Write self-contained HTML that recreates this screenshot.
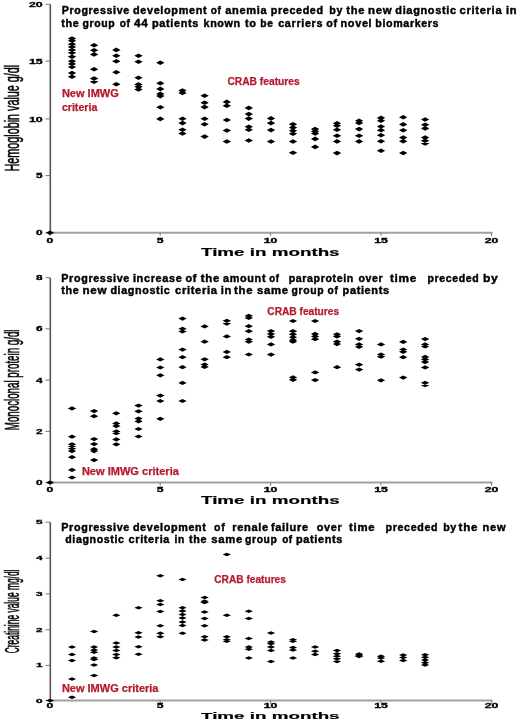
<!DOCTYPE html>
<html><head><meta charset="utf-8"><title>Figure</title>
<style>html,body{margin:0;padding:0;background:#fff;width:520px;height:720px;overflow:hidden}svg{display:block;filter:blur(0.3px)}</style>
</head><body>
<svg width="520" height="720" viewBox="0 0 520 720" font-family="'Liberation Sans', Arial, sans-serif">
<rect width="520" height="720" fill="#fff"/>
<line x1="50.3" y1="4.3" x2="50.3" y2="232.8" stroke="#555" stroke-width="1.6"/>
<line x1="50" y1="232.8" x2="492.5" y2="232.8" stroke="#a0a0a0" stroke-width="2"/>
<line x1="45.5" y1="4.3" x2="50" y2="4.3" stroke="#777" stroke-width="1"/>
<text x="28.90" y="6.90" font-size="7" font-weight="bold" fill="#000" textLength="13.80" lengthAdjust="spacingAndGlyphs" stroke="#000" stroke-width="0.3">20</text>
<line x1="45.5" y1="61.1" x2="50" y2="61.1" stroke="#777" stroke-width="1"/>
<text x="28.90" y="63.70" font-size="7" font-weight="bold" fill="#000" textLength="13.80" lengthAdjust="spacingAndGlyphs" stroke="#000" stroke-width="0.3">15</text>
<line x1="45.5" y1="118.9" x2="50" y2="118.9" stroke="#777" stroke-width="1"/>
<text x="28.90" y="121.50" font-size="7" font-weight="bold" fill="#000" textLength="13.80" lengthAdjust="spacingAndGlyphs" stroke="#000" stroke-width="0.3">10</text>
<line x1="45.5" y1="175.6" x2="50" y2="175.6" stroke="#777" stroke-width="1"/>
<text x="36.10" y="178.20" font-size="7" font-weight="bold" fill="#000" textLength="6.60" lengthAdjust="spacingAndGlyphs" stroke="#000" stroke-width="0.3">5</text>
<line x1="45.5" y1="232.8" x2="50" y2="232.8" stroke="#777" stroke-width="1"/>
<text x="36.10" y="235.40" font-size="7" font-weight="bold" fill="#000" textLength="6.60" lengthAdjust="spacingAndGlyphs" stroke="#000" stroke-width="0.3">0</text>
<line x1="50" y1="232.8" x2="50" y2="235.8" stroke="#777" stroke-width="1"/>
<text x="46.60" y="242.70" font-size="6.5" font-weight="bold" fill="#000" textLength="6.80" lengthAdjust="spacingAndGlyphs" stroke="#000" stroke-width="0.3">0</text>
<line x1="160.2" y1="232.8" x2="160.2" y2="235.8" stroke="#777" stroke-width="1"/>
<text x="156.80" y="242.70" font-size="6.5" font-weight="bold" fill="#000" textLength="6.80" lengthAdjust="spacingAndGlyphs" stroke="#000" stroke-width="0.3">5</text>
<line x1="270.6" y1="232.8" x2="270.6" y2="235.8" stroke="#777" stroke-width="1"/>
<text x="263.80" y="242.70" font-size="6.5" font-weight="bold" fill="#000" textLength="13.60" lengthAdjust="spacingAndGlyphs" stroke="#000" stroke-width="0.3">10</text>
<line x1="381" y1="232.8" x2="381" y2="235.8" stroke="#777" stroke-width="1"/>
<text x="374.20" y="242.70" font-size="6.5" font-weight="bold" fill="#000" textLength="13.60" lengthAdjust="spacingAndGlyphs" stroke="#000" stroke-width="0.3">15</text>
<line x1="491.5" y1="232.8" x2="491.5" y2="235.8" stroke="#777" stroke-width="1"/>
<text x="484.70" y="242.70" font-size="6.5" font-weight="bold" fill="#000" textLength="13.60" lengthAdjust="spacingAndGlyphs" stroke="#000" stroke-width="0.3">20</text>
<path d="M67.8 38.6L72.0 36.30L76.2 38.6L72.0 40.90ZM67.8 40.7L72.0 38.40L76.2 40.7L72.0 43.00ZM67.8 44.2L72.0 41.90L76.2 44.2L72.0 46.50ZM67.8 46.9L72.0 44.60L76.2 46.9L72.0 49.20ZM67.8 50.0L72.0 47.70L76.2 50.0L72.0 52.30ZM67.8 52.8L72.0 50.50L76.2 52.8L72.0 55.10ZM67.8 56.7L72.0 54.40L76.2 56.7L72.0 59.00ZM67.8 61.2L72.0 58.90L76.2 61.2L72.0 63.50ZM67.8 64.0L72.0 61.70L76.2 64.0L72.0 66.30ZM67.8 67.0L72.0 64.70L76.2 67.0L72.0 69.30ZM67.8 73.0L72.0 70.70L76.2 73.0L72.0 75.30ZM67.8 76.8L72.0 74.50L76.2 76.8L72.0 79.10ZM89.9 45.3L94.1 43.00L98.3 45.3L94.1 47.60ZM89.9 50.3L94.1 48.00L98.3 50.3L94.1 52.60ZM89.9 54.4L94.1 52.10L98.3 54.4L94.1 56.70ZM89.9 69.3L94.1 67.00L98.3 69.3L94.1 71.60ZM89.9 78.6L94.1 76.30L98.3 78.6L94.1 80.90ZM89.9 81.8L94.1 79.50L98.3 81.8L94.1 84.10ZM112.1 49.9L116.3 47.60L120.5 49.9L116.3 52.20ZM112.1 55.8L116.3 53.50L120.5 55.8L116.3 58.10ZM112.1 61.3L116.3 59.00L120.5 61.3L116.3 63.60ZM112.1 72.2L116.3 69.90L120.5 72.2L116.3 74.50ZM112.1 84.3L116.3 82.00L120.5 84.3L116.3 86.60ZM134.3 55.8L138.5 53.50L142.7 55.8L138.5 58.10ZM134.3 61.7L138.5 59.40L142.7 61.7L138.5 64.00ZM134.3 77.8L138.5 75.50L142.7 77.8L138.5 80.10ZM134.3 84.4L138.5 82.10L142.7 84.4L138.5 86.70ZM134.3 86.7L138.5 84.40L142.7 86.7L138.5 89.00ZM134.3 89.4L138.5 87.10L142.7 89.4L138.5 91.70ZM156.1 62.8L160.3 60.50L164.5 62.8L160.3 65.10ZM156.1 83.3L160.3 81.00L164.5 83.3L160.3 85.60ZM156.1 88.9L160.3 86.60L164.5 88.9L160.3 91.20ZM156.1 93.9L160.3 91.60L164.5 93.9L160.3 96.20ZM156.1 96.1L160.3 93.80L164.5 96.1L160.3 98.40ZM156.1 107.2L160.3 104.90L164.5 107.2L160.3 109.50ZM156.1 118.9L160.3 116.60L164.5 118.9L160.3 121.20ZM178.3 90.5L182.5 88.20L186.7 90.5L182.5 92.80ZM178.3 92.9L182.5 90.60L186.7 92.9L182.5 95.20ZM178.3 118.8L182.5 116.50L186.7 118.8L182.5 121.10ZM178.3 123.1L182.5 120.80L186.7 123.1L182.5 125.40ZM178.3 129.8L182.5 127.50L186.7 129.8L182.5 132.10ZM178.3 133.5L182.5 131.20L186.7 133.5L182.5 135.80ZM200.4 95.8L204.6 93.50L208.8 95.8L204.6 98.10ZM200.4 102.8L204.6 100.50L208.8 102.8L204.6 105.10ZM200.4 107.1L204.6 104.80L208.8 107.1L204.6 109.40ZM200.4 118.8L204.6 116.50L208.8 118.8L204.6 121.10ZM200.4 124.3L204.6 122.00L208.8 124.3L204.6 126.60ZM200.4 136.6L204.6 134.30L208.8 136.6L204.6 138.90ZM222.6 101.9L226.8 99.60L231.0 101.9L226.8 104.20ZM222.6 105.8L226.8 103.50L231.0 105.8L226.8 108.10ZM222.6 120.0L226.8 117.70L231.0 120.0L226.8 122.30ZM222.6 130.5L226.8 128.20L231.0 130.5L226.8 132.80ZM222.6 141.5L226.8 139.20L231.0 141.5L226.8 143.80ZM244.6 107.9L248.8 105.60L253.0 107.9L248.8 110.20ZM244.6 114.1L248.8 111.80L253.0 114.1L248.8 116.40ZM244.6 118.6L248.8 116.30L253.0 118.6L248.8 120.90ZM244.6 126.8L248.8 124.50L253.0 126.8L248.8 129.10ZM244.6 129.7L248.8 127.40L253.0 129.7L248.8 132.00ZM244.6 140.5L248.8 138.20L253.0 140.5L248.8 142.80ZM266.8 118.4L271.0 116.10L275.2 118.4L271.0 120.70ZM266.8 123.1L271.0 120.80L275.2 123.1L271.0 125.40ZM266.8 130.1L271.0 127.80L275.2 130.1L271.0 132.40ZM266.8 141.5L271.0 139.20L275.2 141.5L271.0 143.80ZM288.8 124.3L293.0 122.00L297.2 124.3L293.0 126.60ZM288.8 127.6L293.0 125.30L297.2 127.6L293.0 129.90ZM288.8 130.7L293.0 128.40L297.2 130.7L293.0 133.00ZM288.8 133.8L293.0 131.50L297.2 133.8L293.0 136.10ZM288.8 141.5L293.0 139.20L297.2 141.5L293.0 143.80ZM288.8 152.8L293.0 150.50L297.2 152.8L293.0 155.10ZM310.9 129.1L315.1 126.80L319.3 129.1L315.1 131.40ZM310.9 131.2L315.1 128.90L319.3 131.2L315.1 133.50ZM310.9 133.4L315.1 131.10L319.3 133.4L315.1 135.70ZM310.9 138.9L315.1 136.60L319.3 138.9L315.1 141.20ZM310.9 146.9L315.1 144.60L319.3 146.9L315.1 149.20ZM332.8 123.3L337.0 121.00L341.2 123.3L337.0 125.60ZM332.8 125.8L337.0 123.50L341.2 125.8L337.0 128.10ZM332.8 129.7L337.0 127.40L341.2 129.7L337.0 132.00ZM332.8 135.8L337.0 133.50L341.2 135.8L337.0 138.10ZM332.8 141.4L337.0 139.10L341.2 141.4L337.0 143.70ZM332.8 153.1L337.0 150.80L341.2 153.1L337.0 155.40ZM354.9 120.8L359.1 118.50L363.3 120.8L359.1 123.10ZM354.9 122.9L359.1 120.60L363.3 122.9L359.1 125.20ZM354.9 129.1L359.1 126.80L363.3 129.1L359.1 131.40ZM354.9 135.8L359.1 133.50L363.3 135.8L359.1 138.10ZM354.9 141.4L359.1 139.10L363.3 141.4L359.1 143.70ZM376.8 117.9L381.0 115.60L385.2 117.9L381.0 120.20ZM376.8 120.8L381.0 118.50L385.2 120.8L381.0 123.10ZM376.8 126.5L381.0 124.20L385.2 126.5L381.0 128.80ZM376.8 130.2L381.0 127.90L385.2 130.2L381.0 132.50ZM376.8 135.2L381.0 132.90L385.2 135.2L381.0 137.50ZM376.8 141.3L381.0 139.00L385.2 141.3L381.0 143.60ZM376.8 150.8L381.0 148.50L385.2 150.8L381.0 153.10ZM399.0 117.3L403.2 115.00L407.4 117.3L403.2 119.60ZM399.0 124.4L403.2 122.10L407.4 124.4L403.2 126.70ZM399.0 130.2L403.2 127.90L407.4 130.2L403.2 132.50ZM399.0 137.6L403.2 135.30L407.4 137.6L403.2 139.90ZM399.0 141.3L403.2 139.00L407.4 141.3L403.2 143.60ZM399.0 153.0L403.2 150.70L407.4 153.0L403.2 155.30ZM420.9 119.5L425.1 117.20L429.3 119.5L425.1 121.80ZM420.9 124.7L425.1 122.40L429.3 124.7L425.1 127.00ZM420.9 128.4L425.1 126.10L429.3 128.4L425.1 130.70ZM420.9 137.6L425.1 135.30L429.3 137.6L425.1 139.90ZM420.9 140.7L425.1 138.40L429.3 140.7L425.1 143.00ZM420.9 143.4L425.1 141.10L429.3 143.4L425.1 145.70ZM45.8 232.8L50.0 230.50L54.2 232.8L50.0 235.10Z" fill="#000"/>
<g font-size="10" font-weight="bold" letter-spacing="0.6" stroke="#000" stroke-width="0.4"><text x="61.7" y="14.2" textLength="68.2" lengthAdjust="spacingAndGlyphs">Progressive</text><text x="132.9" y="14.2" textLength="74.4" lengthAdjust="spacingAndGlyphs">development</text><text x="210.7" y="14.2" textLength="10.7" lengthAdjust="spacingAndGlyphs">of</text><text x="225.3" y="14.2" textLength="42.0" lengthAdjust="spacingAndGlyphs">anemia</text><text x="270.8" y="14.2" textLength="52.9" lengthAdjust="spacingAndGlyphs">preceded</text><text x="329.3" y="14.2" textLength="13.8" lengthAdjust="spacingAndGlyphs">by</text><text x="346.3" y="14.2" textLength="18.7" lengthAdjust="spacingAndGlyphs">the</text><text x="368.0" y="14.2" textLength="24.2" lengthAdjust="spacingAndGlyphs">new</text><text x="395.3" y="14.2" textLength="61.5" lengthAdjust="spacingAndGlyphs">diagnostic</text><text x="459.6" y="14.2" textLength="42.7" lengthAdjust="spacingAndGlyphs">criteria</text><text x="506.0" y="14.2" textLength="11.2" lengthAdjust="spacingAndGlyphs">in</text></g>
<g font-size="10" font-weight="bold" letter-spacing="0.6" stroke="#000" stroke-width="0.4"><text x="61.2" y="26.5" textLength="18.2" lengthAdjust="spacingAndGlyphs">the</text><text x="82.6" y="26.5" textLength="32.8" lengthAdjust="spacingAndGlyphs">group</text><text x="119.8" y="26.5" textLength="10.8" lengthAdjust="spacingAndGlyphs">of</text><text x="134.0" y="26.5" textLength="14.4" lengthAdjust="spacingAndGlyphs">44</text><text x="151.9" y="26.5" textLength="47.1" lengthAdjust="spacingAndGlyphs">patients</text><text x="203.5" y="26.5" textLength="37.3" lengthAdjust="spacingAndGlyphs">known</text><text x="244.9" y="26.5" textLength="11.7" lengthAdjust="spacingAndGlyphs">to</text><text x="260.3" y="26.5" textLength="13.2" lengthAdjust="spacingAndGlyphs">be</text><text x="278.2" y="26.5" textLength="44.9" lengthAdjust="spacingAndGlyphs">carriers</text><text x="326.3" y="26.5" textLength="11.5" lengthAdjust="spacingAndGlyphs">of</text><text x="340.5" y="26.5" textLength="31.8" lengthAdjust="spacingAndGlyphs">novel</text><text x="375.3" y="26.5" textLength="63.9" lengthAdjust="spacingAndGlyphs">biomarkers</text></g>
<text transform="translate(18.7,171.5) rotate(-90)" x="0" y="0" font-size="19.5" font-weight="normal" stroke="#000" stroke-width="0.55" textLength="106.7" lengthAdjust="spacingAndGlyphs">Hemoglobin value g/dl</text>
<text x="61.90" y="96.90" font-size="10.2" font-weight="bold" fill="#b51a2e" textLength="56.90" lengthAdjust="spacingAndGlyphs" stroke="#b51a2e" stroke-width="0.25">New IMWG</text>
<text x="61.90" y="111.10" font-size="10.2" font-weight="bold" fill="#b51a2e" textLength="35.40" lengthAdjust="spacingAndGlyphs" stroke="#b51a2e" stroke-width="0.25">criteria</text>
<text x="227.40" y="84.90" font-size="10.2" font-weight="bold" fill="#b51a2e" textLength="72.30" lengthAdjust="spacingAndGlyphs" stroke="#b51a2e" stroke-width="0.25">CRAB features</text>
<text transform="translate(201,256.1) scale(1,0.896)" x="0" y="0" font-size="12.0" font-weight="bold" textLength="138.6" lengthAdjust="spacingAndGlyphs" stroke="#000" stroke-width="0.2">Time in months</text>
<line x1="50.3" y1="277.7" x2="50.3" y2="482.6" stroke="#555" stroke-width="1.6"/>
<line x1="50" y1="482.6" x2="492.5" y2="482.6" stroke="#a0a0a0" stroke-width="2"/>
<line x1="45.5" y1="277.7" x2="50" y2="277.7" stroke="#777" stroke-width="1"/>
<text x="36.10" y="280.30" font-size="7" font-weight="bold" fill="#000" textLength="6.60" lengthAdjust="spacingAndGlyphs" stroke="#000" stroke-width="0.3">8</text>
<line x1="45.5" y1="328.8" x2="50" y2="328.8" stroke="#777" stroke-width="1"/>
<text x="36.10" y="331.40" font-size="7" font-weight="bold" fill="#000" textLength="6.60" lengthAdjust="spacingAndGlyphs" stroke="#000" stroke-width="0.3">6</text>
<line x1="45.5" y1="380.2" x2="50" y2="380.2" stroke="#777" stroke-width="1"/>
<text x="36.10" y="382.80" font-size="7" font-weight="bold" fill="#000" textLength="6.60" lengthAdjust="spacingAndGlyphs" stroke="#000" stroke-width="0.3">4</text>
<line x1="45.5" y1="431.4" x2="50" y2="431.4" stroke="#777" stroke-width="1"/>
<text x="36.10" y="434.00" font-size="7" font-weight="bold" fill="#000" textLength="6.60" lengthAdjust="spacingAndGlyphs" stroke="#000" stroke-width="0.3">2</text>
<line x1="45.5" y1="482.6" x2="50" y2="482.6" stroke="#777" stroke-width="1"/>
<text x="36.10" y="485.20" font-size="7" font-weight="bold" fill="#000" textLength="6.60" lengthAdjust="spacingAndGlyphs" stroke="#000" stroke-width="0.3">0</text>
<line x1="50" y1="482.6" x2="50" y2="485.6" stroke="#777" stroke-width="1"/>
<text x="46.60" y="491.90" font-size="6.5" font-weight="bold" fill="#000" textLength="6.80" lengthAdjust="spacingAndGlyphs" stroke="#000" stroke-width="0.3">0</text>
<line x1="160.2" y1="482.6" x2="160.2" y2="485.6" stroke="#777" stroke-width="1"/>
<text x="156.80" y="491.90" font-size="6.5" font-weight="bold" fill="#000" textLength="6.80" lengthAdjust="spacingAndGlyphs" stroke="#000" stroke-width="0.3">5</text>
<line x1="270.6" y1="482.6" x2="270.6" y2="485.6" stroke="#777" stroke-width="1"/>
<text x="263.80" y="491.90" font-size="6.5" font-weight="bold" fill="#000" textLength="13.60" lengthAdjust="spacingAndGlyphs" stroke="#000" stroke-width="0.3">10</text>
<line x1="381" y1="482.6" x2="381" y2="485.6" stroke="#777" stroke-width="1"/>
<text x="374.20" y="491.90" font-size="6.5" font-weight="bold" fill="#000" textLength="13.60" lengthAdjust="spacingAndGlyphs" stroke="#000" stroke-width="0.3">15</text>
<line x1="491.5" y1="482.6" x2="491.5" y2="485.6" stroke="#777" stroke-width="1"/>
<text x="484.70" y="491.90" font-size="6.5" font-weight="bold" fill="#000" textLength="13.60" lengthAdjust="spacingAndGlyphs" stroke="#000" stroke-width="0.3">20</text>
<path d="M67.8 408.4L72.0 406.30L76.2 408.4L72.0 410.50ZM67.8 436.7L72.0 434.60L76.2 436.7L72.0 438.80ZM67.8 444.3L72.0 442.20L76.2 444.3L72.0 446.40ZM67.8 446.2L72.0 444.10L76.2 446.2L72.0 448.30ZM67.8 448.6L72.0 446.50L76.2 448.6L72.0 450.70ZM67.8 451.1L72.0 449.00L76.2 451.1L72.0 453.20ZM67.8 457.2L72.0 455.10L76.2 457.2L72.0 459.30ZM67.8 469.9L72.0 467.80L76.2 469.9L72.0 472.00ZM67.8 477.5L72.0 475.40L76.2 477.5L72.0 479.60ZM89.9 411.1L94.1 409.00L98.3 411.1L94.1 413.20ZM89.9 416.2L94.1 414.10L98.3 416.2L94.1 418.30ZM89.9 439.1L94.1 437.00L98.3 439.1L94.1 441.20ZM89.9 444.1L94.1 442.00L98.3 444.1L94.1 446.20ZM89.9 449.2L94.1 447.10L98.3 449.2L94.1 451.30ZM89.9 451.1L94.1 449.00L98.3 451.1L94.1 453.20ZM89.9 460.1L94.1 458.00L98.3 460.1L94.1 462.20ZM112.1 413.3L116.3 411.20L120.5 413.3L116.3 415.40ZM112.1 423.4L116.3 421.30L120.5 423.4L116.3 425.50ZM112.1 426.1L116.3 424.00L120.5 426.1L116.3 428.20ZM112.1 431.4L116.3 429.30L120.5 431.4L116.3 433.50ZM112.1 433.2L116.3 431.10L120.5 433.2L116.3 435.30ZM112.1 439.4L116.3 437.30L120.5 439.4L116.3 441.50ZM112.1 444.3L116.3 442.20L120.5 444.3L116.3 446.40ZM134.3 405.6L138.5 403.50L142.7 405.6L138.5 407.70ZM134.3 411.3L138.5 409.20L142.7 411.3L138.5 413.40ZM134.3 418.5L138.5 416.40L142.7 418.5L138.5 420.60ZM134.3 421.3L138.5 419.20L142.7 421.3L138.5 423.40ZM134.3 429.0L138.5 426.90L142.7 429.0L138.5 431.10ZM134.3 436.5L138.5 434.40L142.7 436.5L138.5 438.60ZM156.1 359.4L160.3 357.30L164.5 359.4L160.3 361.50ZM156.1 367.5L160.3 365.40L164.5 367.5L160.3 369.60ZM156.1 375.3L160.3 373.20L164.5 375.3L160.3 377.40ZM156.1 395.6L160.3 393.50L164.5 395.6L160.3 397.70ZM156.1 401.0L160.3 398.90L164.5 401.0L160.3 403.10ZM156.1 418.8L160.3 416.70L164.5 418.8L160.3 420.90ZM178.3 318.6L182.5 316.50L186.7 318.6L182.5 320.70ZM178.3 328.8L182.5 326.65L186.7 328.8L182.5 330.85ZM178.3 331.5L182.5 329.40L186.7 331.5L182.5 333.60ZM178.3 349.6L182.5 347.50L186.7 349.6L182.5 351.70ZM178.3 357.2L182.5 355.10L186.7 357.2L182.5 359.30ZM178.3 367.2L182.5 365.10L186.7 367.2L182.5 369.30ZM178.3 382.9L182.5 380.80L186.7 382.9L182.5 385.00ZM178.3 401.0L182.5 398.90L186.7 401.0L182.5 403.10ZM200.4 326.4L204.6 324.30L208.8 326.4L204.6 328.50ZM200.4 341.7L204.6 339.60L208.8 341.7L204.6 343.80ZM200.4 359.3L204.6 357.20L208.8 359.3L204.6 361.40ZM200.4 364.6L204.6 362.50L208.8 364.6L204.6 366.70ZM200.4 366.9L204.6 364.80L208.8 366.9L204.6 369.00ZM222.6 320.8L226.8 318.70L231.0 320.8L226.8 322.90ZM222.6 323.6L226.8 321.50L231.0 323.6L226.8 325.70ZM222.6 336.4L226.8 334.30L231.0 336.4L226.8 338.50ZM222.6 351.9L226.8 349.80L231.0 351.9L226.8 354.00ZM222.6 357.2L226.8 355.10L231.0 357.2L226.8 359.30ZM244.6 315.8L248.8 313.70L253.0 315.8L248.8 317.90ZM244.6 317.9L248.8 315.80L253.0 317.9L248.8 320.00ZM244.6 326.2L248.8 324.10L253.0 326.2L248.8 328.30ZM244.6 331.2L248.8 329.10L253.0 331.2L248.8 333.30ZM244.6 339.5L248.8 337.40L253.0 339.5L248.8 341.60ZM244.6 341.7L248.8 339.60L253.0 341.7L248.8 343.80ZM244.6 354.5L248.8 352.40L253.0 354.5L248.8 356.60ZM266.8 331.1L271.0 329.00L275.2 331.1L271.0 333.20ZM266.8 333.9L271.0 331.80L275.2 333.9L271.0 336.00ZM266.8 336.8L271.0 334.70L275.2 336.8L271.0 338.90ZM266.8 344.4L271.0 342.30L275.2 344.4L271.0 346.50ZM266.8 354.6L271.0 352.50L275.2 354.6L271.0 356.70ZM288.8 321.0L293.0 318.90L297.2 321.0L293.0 323.10ZM288.8 331.2L293.0 329.10L297.2 331.2L293.0 333.30ZM288.8 334.3L293.0 332.20L297.2 334.3L293.0 336.40ZM288.8 337.2L293.0 335.10L297.2 337.2L293.0 339.30ZM288.8 340.1L293.0 338.00L297.2 340.1L293.0 342.20ZM288.8 341.7L293.0 339.60L297.2 341.7L293.0 343.80ZM288.8 377.4L293.0 375.30L297.2 377.4L293.0 379.50ZM288.8 379.8L293.0 377.70L297.2 379.8L293.0 381.90ZM310.9 321.0L315.1 318.90L319.3 321.0L315.1 323.10ZM310.9 333.9L315.1 331.80L319.3 333.9L315.1 336.00ZM310.9 336.4L315.1 334.30L319.3 336.4L315.1 338.50ZM310.9 339.2L315.1 337.10L319.3 339.2L315.1 341.30ZM310.9 372.4L315.1 370.30L319.3 372.4L315.1 374.50ZM310.9 380.1L315.1 378.00L319.3 380.1L315.1 382.20ZM332.8 334.3L337.0 332.20L341.2 334.3L337.0 336.40ZM332.8 336.4L337.0 334.30L341.2 336.4L337.0 338.50ZM332.8 341.7L337.0 339.60L341.2 341.7L337.0 343.80ZM332.8 344.1L337.0 342.00L341.2 344.1L337.0 346.20ZM332.8 367.2L337.0 365.10L341.2 367.2L337.0 369.30ZM354.9 331.1L359.1 329.00L363.3 331.1L359.1 333.20ZM354.9 338.8L359.1 336.70L363.3 338.8L359.1 340.90ZM354.9 344.4L359.1 342.30L363.3 344.4L359.1 346.50ZM354.9 346.8L359.1 344.70L363.3 346.8L359.1 348.90ZM354.9 364.7L359.1 362.60L363.3 364.7L359.1 366.80ZM354.9 369.6L359.1 367.50L363.3 369.6L359.1 371.70ZM376.8 344.4L381.0 342.30L385.2 344.4L381.0 346.50ZM376.8 354.5L381.0 352.40L385.2 354.5L381.0 356.60ZM376.8 356.7L381.0 354.60L385.2 356.7L381.0 358.80ZM376.8 380.3L381.0 378.20L385.2 380.3L381.0 382.40ZM399.0 341.9L403.2 339.80L407.4 341.9L403.2 344.00ZM399.0 349.5L403.2 347.40L407.4 349.5L403.2 351.60ZM399.0 351.8L403.2 349.70L407.4 351.8L403.2 353.90ZM399.0 357.2L403.2 355.10L407.4 357.2L403.2 359.30ZM399.0 377.6L403.2 375.50L407.4 377.6L403.2 379.70ZM420.9 339.1L425.1 337.00L429.3 339.1L425.1 341.20ZM420.9 344.4L425.1 342.30L429.3 344.4L425.1 346.50ZM420.9 346.5L425.1 344.40L429.3 346.5L425.1 348.60ZM420.9 356.9L425.1 354.80L429.3 356.9L425.1 359.00ZM420.9 359.4L425.1 357.30L429.3 359.4L425.1 361.50ZM420.9 362.1L425.1 360.00L429.3 362.1L425.1 364.20ZM420.9 367.4L425.1 365.30L429.3 367.4L425.1 369.50ZM420.9 382.8L425.1 380.70L429.3 382.8L425.1 384.90ZM420.9 385.2L425.1 383.10L429.3 385.2L425.1 387.30ZM45.8 482.6L50.0 480.50L54.2 482.6L50.0 484.70Z" fill="#000"/>
<g font-size="10" font-weight="bold" letter-spacing="0.6" stroke="#000" stroke-width="0.4"><text x="61.3" y="281.8" textLength="68.7" lengthAdjust="spacingAndGlyphs">Progressive</text><text x="132.9" y="281.8" textLength="49.6" lengthAdjust="spacingAndGlyphs">increase</text><text x="185.5" y="281.8" textLength="11.5" lengthAdjust="spacingAndGlyphs">of</text><text x="200.8" y="281.8" textLength="19.2" lengthAdjust="spacingAndGlyphs">the</text><text x="223.0" y="281.8" textLength="43.2" lengthAdjust="spacingAndGlyphs">amount</text><text x="269.3" y="281.8" textLength="10.2" lengthAdjust="spacingAndGlyphs">of</text><text x="288.7" y="281.8" textLength="65.2" lengthAdjust="spacingAndGlyphs">paraprotein</text><text x="358.5" y="281.8" textLength="24.8" lengthAdjust="spacingAndGlyphs">over</text><text x="389.9" y="281.8" textLength="27.1" lengthAdjust="spacingAndGlyphs">time</text><text x="427.5" y="281.8" textLength="51.8" lengthAdjust="spacingAndGlyphs">preceded</text><text x="482.9" y="281.8" textLength="15.6" lengthAdjust="spacingAndGlyphs">by</text></g>
<g font-size="10" font-weight="bold" letter-spacing="0.6" stroke="#000" stroke-width="0.4"><text x="61.3" y="294.2" textLength="18.1" lengthAdjust="spacingAndGlyphs">the</text><text x="82.5" y="294.2" textLength="24.7" lengthAdjust="spacingAndGlyphs">new</text><text x="110.4" y="294.2" textLength="60.1" lengthAdjust="spacingAndGlyphs">diagnostic</text><text x="175.1" y="294.2" textLength="42.5" lengthAdjust="spacingAndGlyphs">criteria</text><text x="220.8" y="294.2" textLength="11.3" lengthAdjust="spacingAndGlyphs">in</text><text x="234.1" y="294.2" textLength="19.1" lengthAdjust="spacingAndGlyphs">the</text><text x="257.0" y="294.2" textLength="31.7" lengthAdjust="spacingAndGlyphs">same</text><text x="291.6" y="294.2" textLength="32.5" lengthAdjust="spacingAndGlyphs">group</text><text x="327.6" y="294.2" textLength="10.9" lengthAdjust="spacingAndGlyphs">of</text><text x="342.6" y="294.2" textLength="47.1" lengthAdjust="spacingAndGlyphs">patients</text></g>
<text transform="translate(18.6,430.2) rotate(-90)" x="0" y="0" font-size="19.5" font-weight="normal" stroke="#000" stroke-width="0.55" textLength="100.69999999999999" lengthAdjust="spacingAndGlyphs">Monoclonal protein g/dl</text>
<text x="267.30" y="314.80" font-size="10.2" font-weight="bold" fill="#b51a2e" textLength="71.80" lengthAdjust="spacingAndGlyphs" stroke="#b51a2e" stroke-width="0.25">CRAB features</text>
<text x="81.90" y="474.60" font-size="10.2" font-weight="bold" fill="#b51a2e" textLength="97.00" lengthAdjust="spacingAndGlyphs" stroke="#b51a2e" stroke-width="0.25">New IMWG criteria</text>
<text transform="translate(201,504.0) scale(1,0.861)" x="0" y="0" font-size="12.0" font-weight="bold" textLength="138.6" lengthAdjust="spacingAndGlyphs" stroke="#000" stroke-width="0.2">Time in months</text>
<line x1="50.3" y1="522.2" x2="50.3" y2="700.6" stroke="#555" stroke-width="1.6"/>
<line x1="50" y1="700.6" x2="492.5" y2="700.6" stroke="#a0a0a0" stroke-width="2"/>
<line x1="45.5" y1="522.2" x2="50" y2="522.2" stroke="#777" stroke-width="1"/>
<text x="36.10" y="524.20" font-size="6.0" font-weight="bold" fill="#000" textLength="6.60" lengthAdjust="spacingAndGlyphs" stroke="#000" stroke-width="0.3">5</text>
<line x1="45.5" y1="558.1" x2="50" y2="558.1" stroke="#777" stroke-width="1"/>
<text x="36.10" y="560.10" font-size="6.0" font-weight="bold" fill="#000" textLength="6.60" lengthAdjust="spacingAndGlyphs" stroke="#000" stroke-width="0.3">4</text>
<line x1="45.5" y1="593.9" x2="50" y2="593.9" stroke="#777" stroke-width="1"/>
<text x="36.10" y="595.90" font-size="6.0" font-weight="bold" fill="#000" textLength="6.60" lengthAdjust="spacingAndGlyphs" stroke="#000" stroke-width="0.3">3</text>
<line x1="45.5" y1="629.8" x2="50" y2="629.8" stroke="#777" stroke-width="1"/>
<text x="36.10" y="631.80" font-size="6.0" font-weight="bold" fill="#000" textLength="6.60" lengthAdjust="spacingAndGlyphs" stroke="#000" stroke-width="0.3">2</text>
<line x1="45.5" y1="665.4" x2="50" y2="665.4" stroke="#777" stroke-width="1"/>
<text x="36.10" y="667.40" font-size="6.0" font-weight="bold" fill="#000" textLength="6.60" lengthAdjust="spacingAndGlyphs" stroke="#000" stroke-width="0.3">1</text>
<line x1="45.5" y1="700.6" x2="50" y2="700.6" stroke="#777" stroke-width="1"/>
<text x="36.10" y="702.60" font-size="6.0" font-weight="bold" fill="#000" textLength="6.60" lengthAdjust="spacingAndGlyphs" stroke="#000" stroke-width="0.3">0</text>
<line x1="50" y1="700.6" x2="50" y2="703.6" stroke="#777" stroke-width="1"/>
<text x="46.60" y="708.00" font-size="6.5" font-weight="bold" fill="#000" textLength="6.80" lengthAdjust="spacingAndGlyphs" stroke="#000" stroke-width="0.3">0</text>
<line x1="160.2" y1="700.6" x2="160.2" y2="703.6" stroke="#777" stroke-width="1"/>
<text x="156.80" y="708.00" font-size="6.5" font-weight="bold" fill="#000" textLength="6.80" lengthAdjust="spacingAndGlyphs" stroke="#000" stroke-width="0.3">5</text>
<line x1="270.6" y1="700.6" x2="270.6" y2="703.6" stroke="#777" stroke-width="1"/>
<text x="263.80" y="708.00" font-size="6.5" font-weight="bold" fill="#000" textLength="13.60" lengthAdjust="spacingAndGlyphs" stroke="#000" stroke-width="0.3">10</text>
<line x1="381" y1="700.6" x2="381" y2="703.6" stroke="#777" stroke-width="1"/>
<text x="374.20" y="708.00" font-size="6.5" font-weight="bold" fill="#000" textLength="13.60" lengthAdjust="spacingAndGlyphs" stroke="#000" stroke-width="0.3">15</text>
<line x1="491.5" y1="700.6" x2="491.5" y2="703.6" stroke="#777" stroke-width="1"/>
<text x="484.70" y="708.00" font-size="6.5" font-weight="bold" fill="#000" textLength="13.60" lengthAdjust="spacingAndGlyphs" stroke="#000" stroke-width="0.3">20</text>
<path d="M67.8 646.9L72.0 645.15L76.2 646.9L72.0 648.65ZM67.8 654.4L72.0 652.65L76.2 654.4L72.0 656.15ZM67.8 660.6L72.0 658.85L76.2 660.6L72.0 662.35ZM67.8 679.1L72.0 677.35L76.2 679.1L72.0 680.85ZM67.8 697.3L72.0 695.55L76.2 697.3L72.0 699.05ZM89.9 631.5L94.1 629.75L98.3 631.5L94.1 633.25ZM89.9 646.9L94.1 645.15L98.3 646.9L94.1 648.65ZM89.9 650.0L94.1 648.25L98.3 650.0L94.1 651.75ZM89.9 652.3L94.1 650.55L98.3 652.3L94.1 654.05ZM89.9 658.1L94.1 656.35L98.3 658.1L94.1 659.85ZM89.9 659.4L94.1 657.65L98.3 659.4L94.1 661.15ZM89.9 665.0L94.1 663.25L98.3 665.0L94.1 666.75ZM89.9 675.6L94.1 673.85L98.3 675.6L94.1 677.35ZM112.1 615.3L116.3 613.55L120.5 615.3L116.3 617.05ZM112.1 643.1L116.3 641.35L120.5 643.1L116.3 644.85ZM112.1 646.9L116.3 645.15L120.5 646.9L116.3 648.65ZM112.1 650.6L116.3 648.85L120.5 650.6L116.3 652.35ZM112.1 654.4L116.3 652.65L120.5 654.4L116.3 656.15ZM112.1 657.8L116.3 656.05L120.5 657.8L116.3 659.55ZM134.3 607.8L138.5 606.05L142.7 607.8L138.5 609.55ZM134.3 632.8L138.5 631.05L142.7 632.8L138.5 634.55ZM134.3 636.9L138.5 635.15L142.7 636.9L138.5 638.65ZM134.3 646.7L138.5 644.95L142.7 646.7L138.5 648.45ZM134.3 654.3L138.5 652.55L142.7 654.3L138.5 656.05ZM156.1 575.8L160.3 574.05L164.5 575.8L160.3 577.55ZM156.1 600.8L160.3 599.05L164.5 600.8L160.3 602.55ZM156.1 604.4L160.3 602.65L164.5 604.4L160.3 606.15ZM156.1 611.4L160.3 609.65L164.5 611.4L160.3 613.15ZM156.1 625.8L160.3 624.05L164.5 625.8L160.3 627.55ZM156.1 633.2L160.3 631.45L164.5 633.2L160.3 634.95ZM156.1 636.7L160.3 634.95L164.5 636.7L160.3 638.45ZM178.3 579.4L182.5 577.65L186.7 579.4L182.5 581.15ZM178.3 607.8L182.5 606.05L186.7 607.8L182.5 609.55ZM178.3 611.0L182.5 609.25L186.7 611.0L182.5 612.75ZM178.3 614.4L182.5 612.65L186.7 614.4L182.5 616.15ZM178.3 617.9L182.5 616.15L186.7 617.9L182.5 619.65ZM178.3 622.1L182.5 620.35L186.7 622.1L182.5 623.85ZM178.3 625.6L182.5 623.85L186.7 625.6L182.5 627.35ZM178.3 633.2L182.5 631.45L186.7 633.2L182.5 634.95ZM200.4 597.5L204.6 595.75L208.8 597.5L204.6 599.25ZM200.4 601.3L204.6 599.55L208.8 601.3L204.6 603.05ZM200.4 602.6L204.6 600.85L208.8 602.6L204.6 604.35ZM200.4 611.9L204.6 610.15L208.8 611.9L204.6 613.65ZM200.4 618.6L204.6 616.85L208.8 618.6L204.6 620.35ZM200.4 625.8L204.6 624.05L208.8 625.8L204.6 627.55ZM200.4 636.7L204.6 634.95L208.8 636.7L204.6 638.45ZM200.4 640.1L204.6 638.35L208.8 640.1L204.6 641.85ZM222.6 554.4L226.8 552.65L231.0 554.4L226.8 556.15ZM222.6 615.2L226.8 613.45L231.0 615.2L226.8 616.95ZM222.6 636.7L226.8 634.95L231.0 636.7L226.8 638.45ZM222.6 639.7L226.8 637.95L231.0 639.7L226.8 641.45ZM222.6 641.3L226.8 639.55L231.0 641.3L226.8 643.05ZM244.6 611.2L248.8 609.45L253.0 611.2L248.8 612.95ZM244.6 618.5L248.8 616.75L253.0 618.5L248.8 620.25ZM244.6 638.5L248.8 636.75L253.0 638.5L248.8 640.25ZM244.6 647.1L248.8 645.35L253.0 647.1L248.8 648.85ZM244.6 649.3L248.8 647.55L253.0 649.3L248.8 651.05ZM244.6 657.9L248.8 656.15L253.0 657.9L248.8 659.65ZM266.8 633.1L271.0 631.35L275.2 633.1L271.0 634.85ZM266.8 642.1L271.0 640.35L275.2 642.1L271.0 643.85ZM266.8 643.8L271.0 642.05L275.2 643.8L271.0 645.55ZM266.8 647.1L271.0 645.35L275.2 647.1L271.0 648.85ZM266.8 650.4L271.0 648.65L275.2 650.4L271.0 652.15ZM266.8 661.5L271.0 659.75L275.2 661.5L271.0 663.25ZM288.8 639.7L293.0 637.95L297.2 639.7L293.0 641.45ZM288.8 641.3L293.0 639.55L297.2 641.3L293.0 643.05ZM288.8 647.6L293.0 645.85L297.2 647.6L293.0 649.35ZM288.8 649.9L293.0 648.15L297.2 649.9L293.0 651.65ZM288.8 657.9L293.0 656.15L297.2 657.9L293.0 659.65ZM310.9 646.9L315.1 645.15L319.3 646.9L315.1 648.65ZM310.9 651.3L315.1 649.55L319.3 651.3L315.1 653.05ZM310.9 654.4L315.1 652.65L319.3 654.4L315.1 656.15ZM332.8 650.6L337.0 648.85L341.2 650.6L337.0 652.35ZM332.8 653.8L337.0 652.05L341.2 653.8L337.0 655.55ZM332.8 656.3L337.0 654.55L341.2 656.3L337.0 658.05ZM332.8 658.8L337.0 657.05L341.2 658.8L337.0 660.55ZM332.8 661.5L337.0 659.75L341.2 661.5L337.0 663.25ZM354.9 654.0L359.1 652.25L363.3 654.0L359.1 655.75ZM354.9 655.2L359.1 653.45L363.3 655.2L359.1 656.95ZM354.9 656.4L359.1 654.65L363.3 656.4L359.1 658.15ZM376.8 656.3L381.0 654.55L385.2 656.3L381.0 658.05ZM376.8 658.1L381.0 656.35L385.2 658.1L381.0 659.85ZM376.8 661.3L381.0 659.55L385.2 661.3L381.0 663.05ZM399.0 655.0L403.2 653.25L407.4 655.0L403.2 656.75ZM399.0 657.5L403.2 655.75L407.4 657.5L403.2 659.25ZM399.0 660.6L403.2 658.85L407.4 660.6L403.2 662.35ZM420.9 654.8L425.1 653.05L429.3 654.8L425.1 656.55ZM420.9 657.3L425.1 655.55L429.3 657.3L425.1 659.05ZM420.9 660.0L425.1 658.25L429.3 660.0L425.1 661.75ZM420.9 662.8L425.1 661.05L429.3 662.8L425.1 664.55ZM420.9 665.0L425.1 663.25L429.3 665.0L425.1 666.75ZM45.8 700.6L50.0 698.85L54.2 700.6L50.0 702.35Z" fill="#000"/>
<g font-size="10" font-weight="bold" letter-spacing="0.6" stroke="#000" stroke-width="0.4"><text x="61.3" y="531.2" textLength="68.7" lengthAdjust="spacingAndGlyphs">Progressive</text><text x="132.9" y="531.2" textLength="73.6" lengthAdjust="spacingAndGlyphs">development</text><text x="214.1" y="531.2" textLength="11.2" lengthAdjust="spacingAndGlyphs">of</text><text x="232.2" y="531.2" textLength="36.7" lengthAdjust="spacingAndGlyphs">renale</text><text x="271.0" y="531.2" textLength="37.7" lengthAdjust="spacingAndGlyphs">failure</text><text x="316.8" y="531.2" textLength="25.7" lengthAdjust="spacingAndGlyphs">over</text><text x="349.1" y="531.2" textLength="26.1" lengthAdjust="spacingAndGlyphs">time</text><text x="385.5" y="531.2" textLength="52.7" lengthAdjust="spacingAndGlyphs">preceded</text><text x="443.2" y="531.2" textLength="13.7" lengthAdjust="spacingAndGlyphs">by</text><text x="458.6" y="531.2" textLength="19.5" lengthAdjust="spacingAndGlyphs">the</text><text x="482.6" y="531.2" textLength="23.6" lengthAdjust="spacingAndGlyphs">new</text></g>
<g font-size="10" font-weight="bold" letter-spacing="0.6" stroke="#000" stroke-width="0.4"><text x="65.2" y="543.2" textLength="59.4" lengthAdjust="spacingAndGlyphs">diagnostic</text><text x="128.6" y="543.2" textLength="41.4" lengthAdjust="spacingAndGlyphs">criteria</text><text x="174.6" y="543.2" textLength="10.4" lengthAdjust="spacingAndGlyphs">in</text><text x="189.0" y="543.2" textLength="18.1" lengthAdjust="spacingAndGlyphs">the</text><text x="211.3" y="543.2" textLength="31.6" lengthAdjust="spacingAndGlyphs">same</text><text x="245.1" y="543.2" textLength="32.4" lengthAdjust="spacingAndGlyphs">group</text><text x="282.2" y="543.2" textLength="10.6" lengthAdjust="spacingAndGlyphs">of</text><text x="296.0" y="543.2" textLength="47.1" lengthAdjust="spacingAndGlyphs">patients</text></g>
<text transform="translate(18.7,653.3) rotate(-90)" x="0" y="0" font-size="19.5" font-weight="normal" stroke="#000" stroke-width="0.55" textLength="83.79999999999995" lengthAdjust="spacingAndGlyphs">Creatinine value mg/dl</text>
<text x="214.30" y="583.40" font-size="10.2" font-weight="bold" fill="#b51a2e" textLength="71.60" lengthAdjust="spacingAndGlyphs" stroke="#b51a2e" stroke-width="0.25">CRAB features</text>
<text x="61.90" y="692.20" font-size="10.2" font-weight="bold" fill="#b51a2e" textLength="96.60" lengthAdjust="spacingAndGlyphs" stroke="#b51a2e" stroke-width="0.25">New IMWG criteria</text>
<text transform="translate(201,718.8) scale(1,0.698)" x="0" y="0" font-size="12.0" font-weight="bold" textLength="138.6" lengthAdjust="spacingAndGlyphs" stroke="#000" stroke-width="0.2">Time in months</text>
</svg>
</body></html>
